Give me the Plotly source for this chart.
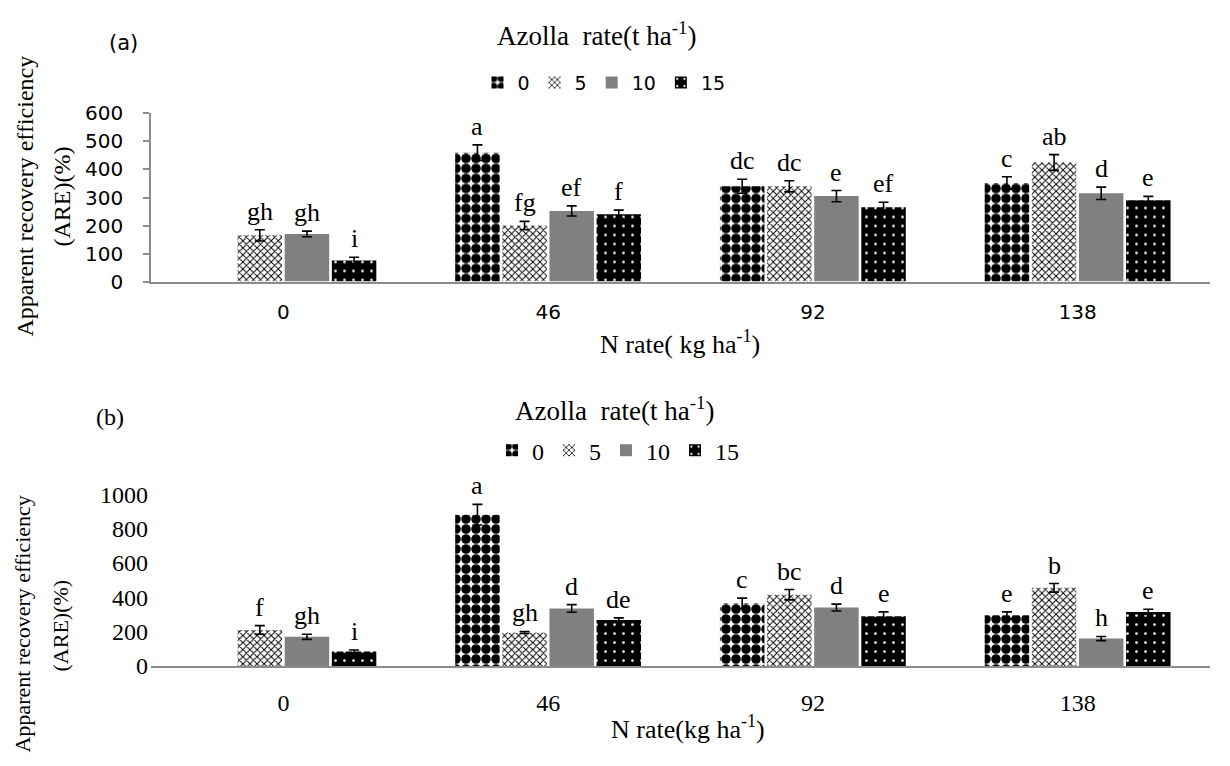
import plotly.graph_objects as go

# N application rates (kg ha-1) on the x axis
n_rates = ["0", "46", "92", "138"]
# Azolla application rates (t ha-1), one bar series each
azolla_rates = ["0", "5", "10", "15"]

# Panel (a): ARE (%) means, standard errors and significance letters
are_a = {
    "0": [None, 460, 340, 352],
    "5": [165, 200, 340, 425],
    "10": [170, 252, 305, 315],
    "15": [75, 240, 265, 290],
}
err_a = {
    "0": [None, 28, 25, 22],
    "5": [20, 15, 20, 28],
    "10": [10, 18, 20, 22],
    "15": [12, 15, 18, 14],
}
letters_a = {
    "0": [None, "a", "dc", "c"],
    "5": ["gh", "fg", "dc", "ab"],
    "10": ["gh", "ef", "e", "d"],
    "15": ["i", "f", "ef", "e"],
}

# Panel (b)
are_b = {
    "0": [None, 880, 365, 295],
    "5": [210, 195, 415, 455],
    "10": [170, 335, 340, 160],
    "15": [85, 268, 290, 315],
}
err_b = {
    "0": [None, 60, 30, 20],
    "5": [25, 6, 30, 25],
    "10": [15, 22, 20, 12],
    "15": [8, 12, 25, 15],
}
letters_b = {
    "0": [None, "a", "c", "e"],
    "5": ["f", "gh", "bc", "b"],
    "10": ["gh", "d", "d", "h"],
    "15": ["i", "de", "e", "e"],
}

# Fill styles per Azolla rate
patterns = {
    "0": dict(shape=".", fgcolor="black", bgcolor="white", size=10, solidity=0.72, fillmode="replace"),
    "5": dict(shape="x", fgcolor="black", bgcolor="white", size=5, solidity=0.35, fillmode="replace"),
    "10": None,
    "15": dict(shape=".", fgcolor="white", bgcolor="black", size=9, solidity=0.07, fillmode="replace"),
}
solid = {"0": "white", "5": "white", "10": "#808080", "15": "black"}

SERIF = "Liberation Serif"
SANS = "DejaVu Sans"

BAR_W = 0.168
PITCH = 0.178
x_pos = list(range(len(n_rates)))

fig = go.Figure()
annotations = []


def add_panel(values, errors, letters, xa, ya, legend_name, letter_font):
    for i, rate in enumerate(azolla_rates):
        offset = -2 * PITCH + i * PITCH + (PITCH - BAR_W) / 2
        marker = dict(color=solid[rate], line=dict(width=0))
        if patterns[rate] is not None:
            marker["pattern"] = patterns[rate]
        fig.add_trace(go.Bar(
            x=x_pos, y=values[rate], name=rate,
            width=BAR_W, offset=offset,
            marker=marker,
            error_y=dict(type="data", array=errors[rate], color="black",
                         thickness=1.6, width=5),
            xaxis=xa, yaxis=ya, legend=legend_name,
        ))
        for xi, v, e, lab in zip(x_pos, values[rate], errors[rate], letters[rate]):
            if v is None or lab is None:
                continue
            annotations.append(dict(
                x=xi + offset + BAR_W / 2, y=v + e,
                xref=xa, yref=ya, text=lab, showarrow=False,
                yanchor="bottom", yshift=2,
                font=dict(family=SERIF, size=letter_font, color="black"),
            ))


add_panel(are_a, err_a, letters_a, "x", "y", "legend", 26)
add_panel(are_b, err_b, letters_b, "x2", "y2", "legend2", 26)

W, H = 1230, 766


def px(x):
    return x / W


def py(y):
    return 1 - y / H


x_dom = [px(151), px(1210)]

fig.update_layout(
    width=W, height=H,
    margin=dict(l=0, r=0, t=0, b=0),
    paper_bgcolor="white", plot_bgcolor="white",
    barmode="overlay",
    xaxis=dict(domain=x_dom, anchor="y", range=[-0.5, 3.5],
               tickvals=x_pos, ticktext=n_rates, showgrid=False, zeroline=False,
               showline=True, linecolor="#8c8c8c", linewidth=1.5, ticks="",
               tickfont=dict(family=SANS, size=20, color="black"),
               ticklabelstandoff=12),
    yaxis=dict(domain=[py(278), py(104)], anchor="x", range=[0, 600],
               dtick=100, showgrid=False, zeroline=False,
               showline=True, linecolor="#8c8c8c", linewidth=1.5,
               ticks="outside", ticklen=6, tickcolor="#8c8c8c", tickwidth=1.5,
               tickfont=dict(family=SANS, size=20, color="black"),
               ticklabelstandoff=16),
    xaxis2=dict(domain=x_dom, anchor="y2", range=[-0.5, 3.5],
                tickvals=x_pos, ticktext=n_rates, showgrid=False, zeroline=False,
                showline=True, linecolor="#8c8c8c", linewidth=1.5, ticks="",
                tickfont=dict(family=SERIF, size=24, color="black"),
                ticklabelstandoff=14),
    yaxis2=dict(domain=[py(676), py(498)], anchor="x2", range=[0, 1000],
                dtick=200, showgrid=False, zeroline=False, showline=False,
                ticks="", tickfont=dict(family=SERIF, size=24, color="black"),
                ticklabelstandoff=2),
    legend=dict(orientation="h", x=px(604), y=py(72), xanchor="center", yanchor="middle",
                font=dict(family=SANS, size=19, color="black"),
                itemwidth=30, bgcolor="rgba(0,0,0,0)", traceorder="normal"),
    legend2=dict(orientation="h", x=px(618), y=py(453), xanchor="center", yanchor="middle",
                 font=dict(family=SERIF, size=24, color="black"),
                 itemwidth=30, bgcolor="rgba(0,0,0,0)", traceorder="normal"),
)

text_items = [
    ("(a)", 123, 31, SANS, 21, 0),
    ("Azolla  rate(t ha<sup>-1</sup>)", 596, 22, SERIF, 27, 0),
    ("N rate( kg ha<sup>-1</sup>)", 680, 341, SERIF, 26, 0),
    ("Apparent recovery efficiency", 25, 190, SERIF, 24, -90),
    ("(ARE)(%)", 62, 190, SERIF, 24, -90),
    ("(b)", 110, 418, SERIF, 24, 0),
    ("Azolla  rate(t ha<sup>-1</sup>)", 614, 410, SERIF, 27, 0),
    ("N rate(kg ha<sup>-1</sup>)", 688, 740, SERIF, 26, 0),
    ("Apparent recovery efficiency", 23, 633, SERIF, 22, -90),
    ("(ARE)(%)", 60, 634, SERIF, 22, -90),
]
for text, x, y, fam, size, ang in text_items:
    annotations.append(dict(
        x=px(x), y=py(y), xref="paper", yref="paper", text=text,
        showarrow=False, textangle=ang, xanchor="center", yanchor="middle",
        font=dict(family=fam, size=size, color="black"),
    ))

fig.update_layout(annotations=annotations)
fig.write_html("out.html")
